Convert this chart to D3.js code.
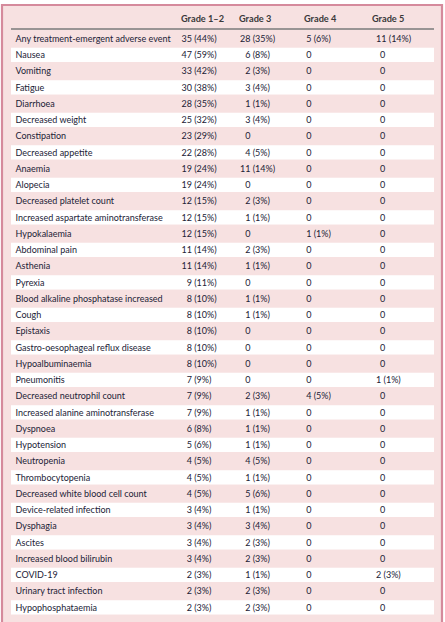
<!DOCTYPE html>
<html><head><meta charset="utf-8">
<script src="https://cdn.jsdelivr.net/npm/d3@7"></script>
<style>
html,body{margin:0;padding:0;background:#fff;}
svg{display:block;}
</style></head>
<body>
<script>
const events = ["Any treatment-emergent adverse event","Nausea","Vomiting","Fatigue","Diarrhoea","Decreased weight","Constipation","Decreased appetite","Anaemia","Alopecia","Decreased platelet count","Increased aspartate aminotransferase","Hypokalaemia","Abdominal pain","Asthenia","Pyrexia","Blood alkaline phosphatase increased","Cough","Epistaxis","Gastro-oesophageal reflux disease","Hypoalbuminaemia","Pneumonitis","Decreased neutrophil count","Increased alanine aminotransferase","Dyspnoea","Hypotension","Neutropenia","Thrombocytopenia","Decreased white blood cell count","Device-related infection","Dysphagia","Ascites","Increased blood bilirubin","COVID-19","Urinary tract infection","Hypophosphataemia"];
const grades = ["Grade 1–2","Grade 3","Grade 4","Grade 5"];
const grade12N   = [35,47,33,30,28,25,23,22,19,19,12,12,12,11,11,9,8,8,8,8,8,7,7,7,6,5,4,4,4,3,3,3,3,2,2,2];
const grade12Pct = [44,59,42,38,35,32,29,28,24,24,15,15,15,14,14,11,10,10,10,10,10,9,9,9,8,6,5,5,5,4,4,4,4,3,3,3];
const grade3N    = [28,6,2,3,1,3,0,4,11,0,2,1,0,2,1,0,1,1,0,0,0,0,2,1,1,1,4,1,5,1,3,2,2,1,2,2];
const grade3Pct  = [35,8,3,4,1,4,null,5,14,null,3,1,null,3,1,null,1,1,null,null,null,null,3,1,1,1,5,1,6,1,4,3,3,1,3,3];
const grade4N    = [5,0,0,0,0,0,0,0,0,0,0,0,1,0,0,0,0,0,0,0,0,0,4,0,0,0,0,0,0,0,0,0,0,0,0,0];
const grade4Pct  = [6,null,null,null,null,null,null,null,null,null,null,null,1,null,null,null,null,null,null,null,null,null,5,null,null,null,null,null,null,null,null,null,null,null,null,null];
const grade5N    = [11,0,0,0,0,0,0,0,0,0,0,0,0,0,0,0,0,0,0,0,0,1,0,0,0,0,0,0,0,0,0,0,0,2,0,0];
const grade5Pct  = [14,null,null,null,null,null,null,null,null,null,null,null,null,null,null,null,null,null,null,null,null,1,null,null,null,null,null,null,null,null,null,null,null,3,null,null];

const W = 445, H = 622;
const FONT = "Lato, 'Open Sans', sans-serif";
const FS = 9;
const svg = d3.select("body").append("svg").attr("width", W).attr("height", H);

// frame
svg.append("rect").attr("x",2).attr("y",5).attr("width",440).attr("height",H).attr("fill","#f7e1e1");
const border = "#d58a9c";
svg.append("line").attr("x1",2).attr("x2",442).attr("y1",5).attr("y2",5).attr("stroke",border).attr("stroke-width",2);
svg.append("line").attr("x1",2).attr("x2",2).attr("y1",4).attr("y2",H).attr("stroke",border).attr("stroke-width",2.2);
svg.append("line").attr("x1",442).attr("x2",442).attr("y1",4).attr("y2",H).attr("stroke",border).attr("stroke-width",2.2);

const y = d3.scaleBand().domain(events).range([30.5, 30.5 + 16.25*events.length]).paddingInner(0.12).paddingOuter(0.06);
const colX = d3.scaleOrdinal().domain(grades).range([181, 239, 304, 372]);
const left = 11, right = 434;

// white stripes
svg.append("g").selectAll("rect").data(events.filter((d,i)=>i%2===1)).join("rect")
  .attr("x", left).attr("width", right-left)
  .attr("y", d => y(d)).attr("height", y.bandwidth())
  .attr("fill", "#ffffff");

// header
svg.append("g").selectAll("text").data(grades).join("text")
  .attr("x", d => colX(d)).attr("y", 21.5)
  .attr("font-family", FONT).attr("font-size", 9.2).attr("font-weight", 700)
  .attr("fill", "#3a3a3a").text(d => d);
svg.append("line").attr("x1", left).attr("x2", right).attr("y1", 29).attr("y2", 29)
  .attr("stroke", "#7a7a7a").attr("stroke-width", 1.4);

const textColor = "#222236";
const mid = d => y(d) + y.bandwidth()/2 + 3.3;

// labels
svg.append("g").selectAll("text").data(events).join("text")
  .attr("x", 15.5).attr("y", d => mid(d))
  .attr("font-family", FONT).attr("font-size", FS).attr("fill", textColor)
  .text(d => d);

// value columns: count right-aligned at numEnd, percentage follows
const cols = [
  {g: grades[0], n: grade12N, p: grade12Pct, numEnd: 192, mode: "paren"},
  {g: grades[1], n: grade3N,  p: grade3Pct,  numEnd: 250.5, mode: "paren"},
  {g: grades[2], n: grade4N,  p: grade4Pct,  numEnd: 311.5, mode: "paren"},
  {g: grades[3], n: grade5N,  p: grade5Pct,  start: 376, zeroStart: 380, mode: "left"}
];
cols.forEach(c => {
  const gg = svg.append("g").attr("font-family", FONT).attr("font-size", FS).attr("fill", textColor);
  const rows = events.map((e,i) => ({e, n: c.n[i], p: c.p[i]}));
  if (c.mode === "paren") {
    gg.selectAll("text.n").data(rows).join("text").attr("class","n")
      .attr("x", c.numEnd).attr("y", d => mid(d.e)).attr("text-anchor","end").text(d => d.n);
    gg.selectAll("text.p").data(rows.filter(d => d.p != null)).join("text").attr("class","p")
      .attr("x", c.numEnd + 2.2).attr("y", d => mid(d.e)).text(d => `(${d.p}%)`);
  } else {
    gg.selectAll("text").data(rows).join("text")
      .attr("x", d => d.n === 0 ? c.zeroStart : c.start).attr("y", d => mid(d.e))
      .text(d => d.p != null ? `${d.n} (${d.p}%)` : `${d.n}`);
  }
});
</script>
</body></html>
